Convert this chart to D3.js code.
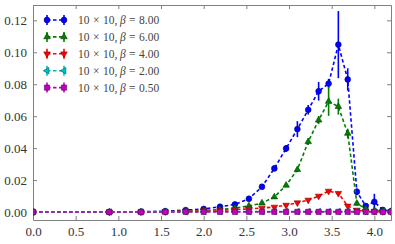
<!DOCTYPE html>
<html>
<head>
<meta charset="utf-8">
<script src="https://cdn.jsdelivr.net/npm/d3@7"></script>
<style>
  body { margin: 0; background: #fff; }
  svg { display: block; }
</style>
</head>
<body>
<div class="chart"></div>
<script>
const width = 395;
const height = 244;
const margin = {top: 5, right: 4, bottom: 24, left: 33};

// x positions of the temperature points
const xs = [0.0, 0.894, 1.265, 1.549, 1.789, 2.0, 2.191, 2.366, 2.530, 2.683, 2.828,
  2.966, 3.098, 3.225, 3.347, 3.464, 3.578, 3.688, 3.795, 3.899, 4.0, 4.099, 4.195];

const yBeta8 = [0, 0, 0.0002, 0.0005, 0.0012, 0.0019, 0.0033, 0.0048, 0.0083, 0.0158, 0.0273,
  0.0398, 0.0519, 0.0640, 0.0756, 0.0804, 0.1048, 0.0830, 0.0127, 0.0038, 0.0064, 0.0013, 0.0005];
const eBeta8 = [0, 0, 0, 0, 0.0003, 0.0004, 0.0005, 0.0006, 0.0008, 0.001, 0.0018,
  0.0022, 0.005, 0.003, 0.0058, 0.003, 0.021, 0.007, 0.002, 0.001, 0.005, 0.001, 0.0005];

const yBeta6 = [0, 0, 0, 0.0002, 0.0005, 0.001, 0.0015, 0.0025, 0.0038, 0.0056, 0.0094,
  0.0167, 0.0265, 0.0440, 0.0575, 0.0692, 0.0660, 0.0492, 0.0054, 0.0020, 0.0010, 0.0005, 0.0003];
const eBeta6 = [0, 0, 0, 0, 0, 0.0002, 0.0003, 0.0004, 0.0005, 0.0006, 0.0008,
  0.001, 0.0015, 0.002, 0.0025, 0.009, 0.005, 0.003, 0.0015, 0.0006, 0.0004, 0.0002, 0.0002];

const yBeta4 = [0, 0, 0, 0.0002, 0.0005, 0.0008, 0.001, 0.0015, 0.002, 0.0025, 0.0031,
  0.0043, 0.0058, 0.0075, 0.0100, 0.0131, 0.0117, 0.0038, 0.0012, 0.0006, 0.0004, 0.0003, 0.0002];
const eBeta4 = [0, 0, 0, 0, 0, 0, 0.0001, 0.0001, 0.0002, 0.0002, 0.0003,
  0.0003, 0.0004, 0.0005, 0.0005, 0.0006, 0.0006, 0.0005, 0.0003, 0.0002, 0.0001, 0.0001, 0.0001];

const yBeta2 = [0, 0, 0.0001, 0.0002, 0.0002, 0.0003, 0.0003, 0.0003, 0.0003, 0.0003, 0.0003,
  0.0003, 0.0003, 0.0003, 0.0003, 0.0003, 0.0003, 0.0003, 0.0003, 0.0003, 0.0003, 0.0003, 0.0003];
const yBeta05 = [0, 0, 0, 0, 0.0001, 0.0001, 0.0001, 0.0001, 0.0001, 0.0001, 0.0001,
  0.0001, 0.0001, 0.0001, 0.0001, 0.0001, 0.0001, 0.0001, 0.0001, 0.0001, 0.0001, 0.0001, 0.0001];
const eSmall = [0, 0, 0, 0, 0, 0, 0, 0, 0, 0, 0, 0, 0, 0, 0, 0, 0, 0, 0, 0, 0, 0, 0];

const xTicks = [0, 0.5, 1.0, 1.5, 2.0, 2.5, 3.0, 3.5, 4.0];
const yTicks = [0, 0.02, 0.04, 0.06, 0.08, 0.10, 0.12];

const series = [
  {beta: '8.00', y: yBeta8, e: eBeta8, color: '#0000ff', edge: '#00007a', marker: 'circle'},
  {beta: '6.00', y: yBeta6, e: eBeta6, color: '#008000', edge: '#004000', marker: 'tri-up'},
  {beta: '4.00', y: yBeta4, e: eBeta4, color: '#ff0000', edge: '#800000', marker: 'tri-down'},
  {beta: '2.00', y: yBeta2, e: eSmall, color: '#00bfbf', edge: '#006060', marker: 'tri-left'},
  {beta: '0.50', y: yBeta05, e: eSmall, color: '#bf00bf', edge: '#600060', marker: 'square'}
];

const serif = '"Liberation Serif", "DejaVu Serif", serif';

const svg = d3.select('.chart').append('svg')
  .attr('width', width).attr('height', height);

const xScale = d3.scaleLinear().domain([0, 4.195]).range([margin.left, width - margin.right]);
const yScale = d3.scaleLinear().domain([-0.005, 0.1296]).range([height - margin.bottom, margin.top]);

const fmt2 = d3.format('.2f');
const fmt1 = d3.format('.1f');

// axes with inward ticks on all four sides
const axes = [
  svg.append('g').attr('transform', `translate(0,${height - margin.bottom})`)
    .call(d3.axisBottom(xScale).tickValues(xTicks).tickFormat(fmt1).tickSizeInner(-4).tickSizeOuter(0).tickPadding(7)),
  svg.append('g').attr('transform', `translate(0,${margin.top})`)
    .call(d3.axisTop(xScale).tickValues(xTicks).tickFormat('').tickSizeInner(-4).tickSizeOuter(0)),
  svg.append('g').attr('transform', `translate(${margin.left},0)`)
    .call(d3.axisLeft(yScale).tickValues(yTicks).tickFormat(fmt2).tickSizeInner(-4).tickSizeOuter(0).tickPadding(6)),
  svg.append('g').attr('transform', `translate(${width - margin.right},0)`)
    .call(d3.axisRight(yScale).tickValues(yTicks).tickFormat('').tickSizeInner(-4).tickSizeOuter(0))
];
axes.forEach(a => a.attr('font-family', serif).attr('font-size', 13));

svg.selectAll('.domain').attr('stroke', '#808080');
svg.selectAll('.tick line').attr('stroke', '#808080');
svg.selectAll('.tick text').attr('fill', '#333');

svg.append('clipPath').attr('id', 'clip').append('rect')
  .attr('x', margin.left).attr('y', margin.top)
  .attr('width', width - margin.left - margin.right)
  .attr('height', height - margin.top - margin.bottom);

const symbolPath = (m, s) => {
  if (m === 'circle') return d3.symbol(d3.symbolCircle, s * s * Math.PI)();
  if (m === 'square') return d3.symbol(d3.symbolSquare, s * s * 3.2)();
  const r = s * 1.3;
  const pts = {
    'tri-up': [[0, -r], [r * 0.87, r * 0.5], [-r * 0.87, r * 0.5]],
    'tri-down': [[0, r], [r * 0.87, -r * 0.5], [-r * 0.87, -r * 0.5]],
    'tri-left': [[-r, 0], [r * 0.5, -r * 0.87], [r * 0.5, r * 0.87]]
  }[m];
  return 'M' + pts.map(p => p.join(',')).join('L') + 'Z';
};

const plot = svg.append('g').attr('clip-path', 'url(#clip)');
const line = d3.line().x(d => xScale(d[0])).y(d => yScale(d[1]));

series.forEach(s => {
  const pts = xs.map((x, i) => [x, s.y[i], s.e[i]]);
  const g = plot.append('g');
  g.append('path').datum(pts).attr('d', line)
    .attr('fill', 'none').attr('stroke', s.color).attr('stroke-width', 1.6)
    .attr('stroke-dasharray', '3.5,2.5');
  g.selectAll('line.err').data(pts.filter(d => d[2] > 0)).enter().append('line')
    .attr('x1', d => xScale(d[0])).attr('x2', d => xScale(d[0]))
    .attr('y1', d => yScale(d[1] - d[2])).attr('y2', d => yScale(d[1] + d[2]))
    .attr('stroke', s.color).attr('stroke-width', 1.6);
  g.selectAll('path.mk').data(pts).enter().append('path')
    .attr('transform', d => `translate(${xScale(d[0])},${yScale(d[1])})`)
    .attr('d', symbolPath(s.marker, 2.9))
    .attr('fill', s.color).attr('stroke', s.edge).attr('stroke-width', 0.6);
});

// legend
const legend = svg.append('g').attr('transform', 'translate(47,20)');
series.forEach((s, i) => {
  const row = legend.append('g').attr('transform', `translate(0,${i * 16.9})`);
  row.append('line').attr('x1', 0).attr('x2', 17).attr('y1', 0).attr('y2', 0)
    .attr('stroke', s.color).attr('stroke-width', 1.6).attr('stroke-dasharray', '3.5,2.5');
  [0, 17].forEach(px => {
    row.append('line').attr('x1', px).attr('x2', px).attr('y1', -5).attr('y2', 5)
      .attr('stroke', s.color).attr('stroke-width', 1.6);
    row.append('path').attr('transform', `translate(${px},0)`)
      .attr('d', symbolPath(s.marker, 2.9))
      .attr('fill', s.color).attr('stroke', s.edge).attr('stroke-width', 0.6);
  });
  const t = row.append('text').attr('x', 31).attr('y', 4)
    .attr('font-family', serif).attr('font-size', 11.5).attr('fill', '#444');
  t.append('tspan').text('10');
  t.append('tspan').attr('dx', 3.5).text('×');
  t.append('tspan').attr('dx', 3.5).text('10,');
  t.append('tspan').attr('dx', 2.5).attr('font-style', 'italic').text('β');
  t.append('tspan').attr('dx', 3.5).text('=');
  t.append('tspan').attr('dx', 3.5).text(s.beta);
});
</script>
</body>
</html>
